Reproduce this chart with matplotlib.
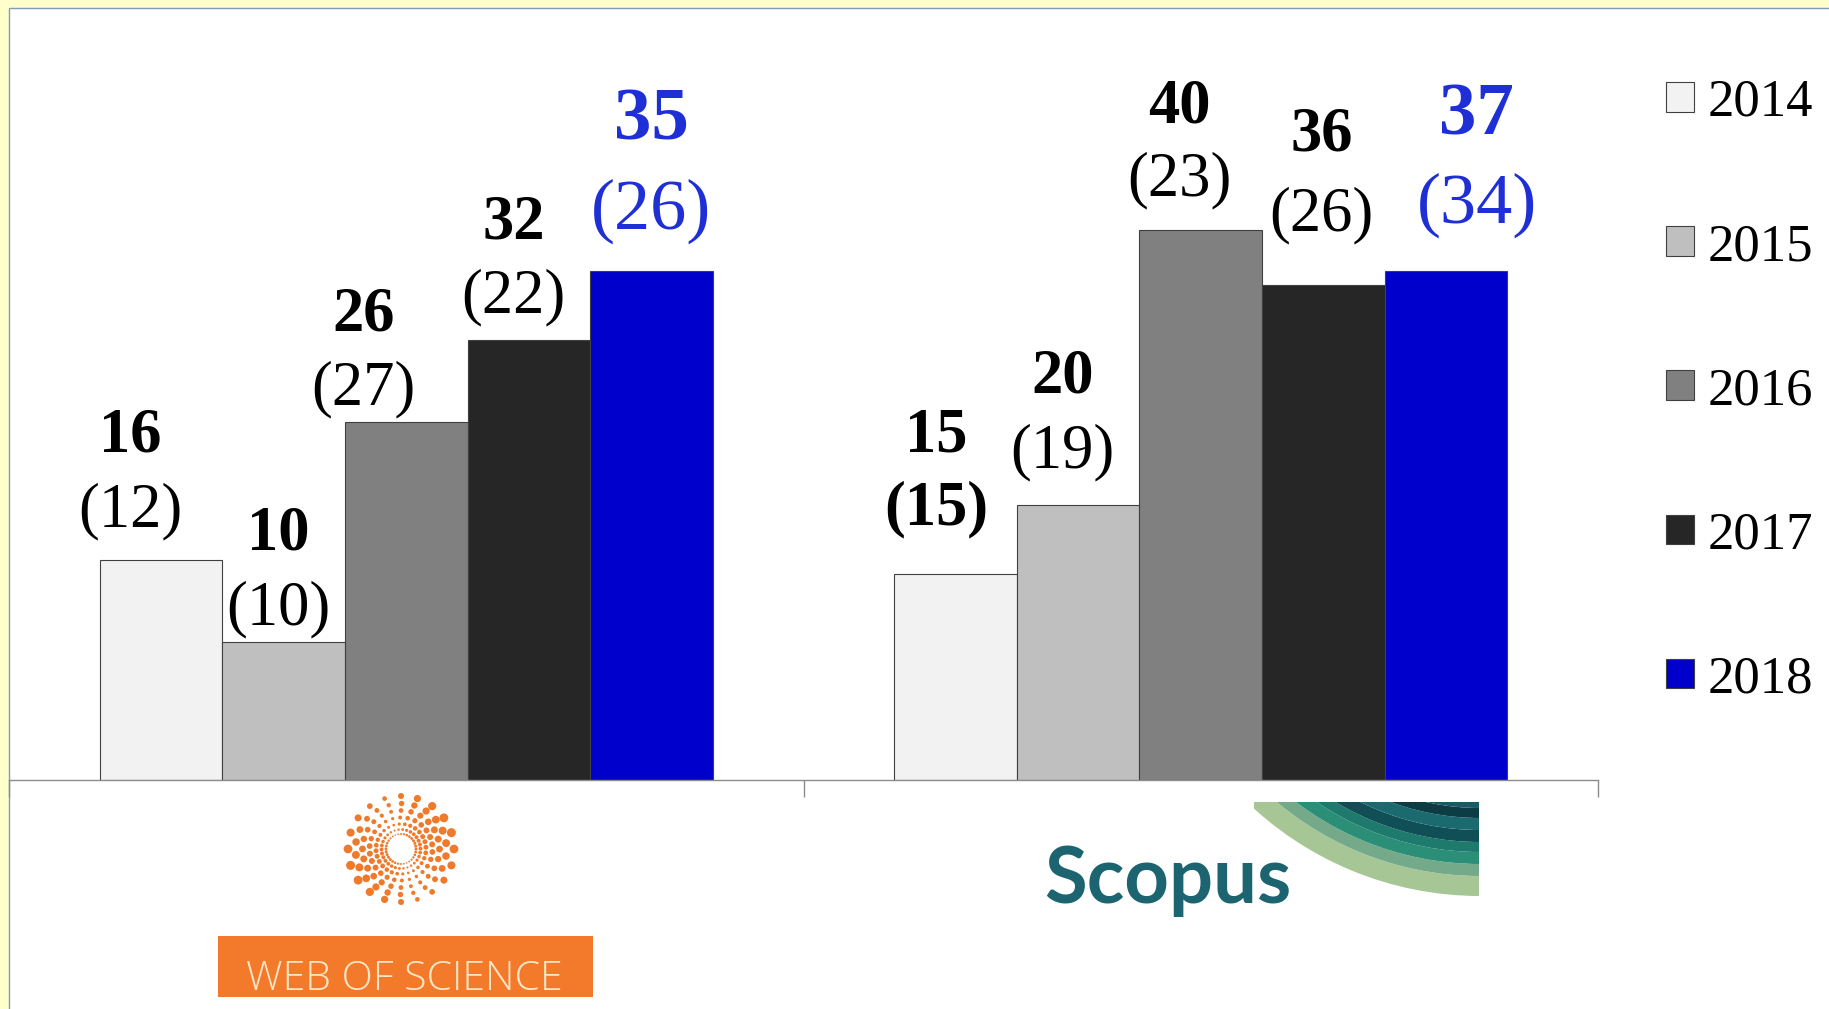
import matplotlib
matplotlib.use('Agg')
import matplotlib.pyplot as plt
import numpy as np
from matplotlib.patches import Rectangle, Wedge

# ---------------- data ----------------
years = ['2014', '2015', '2016', '2017', '2018']
databases = ['Web of Science', 'Scopus']
wos_totals = [16, 10, 26, 32, 35]
wos_paren = [12, 10, 27, 22, 26]
wos_bar_heights = [16, 10, 26, 32, 37]      # 2018 bar is drawn at 37 in the reference
scopus_totals = [15, 20, 40, 36, 37]
scopus_paren = [15, 19, 23, 26, 34]
scopus_bar_heights = [15, 20, 40, 36, 37]

# ---------------- style / layout ----------------
colors = ['#F2F2F2', '#BFBFBF', '#808080', '#262626', '#0000CC']
label_colors = ['black', 'black', 'black', 'black', '#1F2FD6']
label_sizes = [45, 45, 45, 45, 52]
# label offsets (pixels) relative to bar-top centre
lab_dx = [[-31, -5, -43, -15, 0], [-19, -16, -21, -2, 31]]
paren_dy = [[33, 18, 18, 27, 42], [49, 37, 34, 54, 48]]
num_dy = [[108, 93, 92, 101, 131], [122, 112, 107, 134, 136]]
paren_bold = [[False] * 5, [True, False, False, False, False]]

W, H = 1829, 1009
fig = plt.figure(figsize=(W / 100, H / 100), dpi=100)
fig.patch.set_facecolor('#FFFFCC')

bg = fig.add_axes([0, 0, 1, 1], zorder=0)
bg.set_xlim(0, W)
bg.set_ylim(H, 0)
bg.axis('off')
bg.add_patch(Rectangle((8.5, 7.5), W + 50, H + 50, facecolor='white',
                       edgecolor='#7F9DB9', lw=1.0))

px_per_unit = 13.76
ax_left, ax_right, ax_bottom_px, ax_top_px = 9, 1598, 780, 8
ax = fig.add_axes([ax_left / W, (H - ax_bottom_px) / H,
                   (ax_right - ax_left) / W, (ax_bottom_px - ax_top_px) / H], zorder=1)
ax.patch.set_alpha(0)
ax.set_xlim(-0.5, 1.5)
ax.set_ylim(0, (ax_bottom_px - ax_top_px) / px_per_unit)

bw = 0.1543
heights = np.array([wos_bar_heights, scopus_bar_heights])
totals = np.array([wos_totals, scopus_totals])
parens = np.array([wos_paren, scopus_paren])
x = np.arange(len(databases))
bars = []
for j, yr in enumerate(years):
    b = ax.bar(x + (j - 2) * bw, heights[:, j], width=bw, color=colors[j],
               edgecolor='#404040', linewidth=0.8, label=yr)
    bars.append(b)

for i in range(len(databases)):
    for j in range(len(years)):
        xc = x[i] + (j - 2) * bw
        h = heights[i, j]
        ax.annotate(f'{totals[i, j]}', xy=(xc, h), xytext=(lab_dx[i][j], num_dy[i][j]),
                    textcoords='offset pixels', ha='center', va='baseline',
                    fontsize=label_sizes[j] + (2 if j == 4 else 0), fontweight='bold',
                    color=label_colors[j], family='Liberation Serif', annotation_clip=False)
        ax.annotate(f'({parens[i, j]})', xy=(xc, h), xytext=(lab_dx[i][j], paren_dy[i][j]),
                    textcoords='offset pixels', ha='center', va='baseline',
                    fontsize=label_sizes[j],
                    fontweight='bold' if paren_bold[i][j] else 'normal',
                    color=label_colors[j], family='Liberation Serif', annotation_clip=False)

for s in ['left', 'top', 'right']:
    ax.spines[s].set_visible(False)
ax.spines['bottom'].set_color('#8C8C8C')
ax.spines['bottom'].set_linewidth(1.0)
ax.set_xticks([-0.5, 0.5, 1.5])
ax.set_xticklabels([])
ax.tick_params(axis='x', length=12, color='#8C8C8C', width=1.0, direction='out')
ax.set_yticks([])

leg = fig.legend(handles=[b for b in bars], labels=years, loc='upper left',
                 bbox_to_anchor=(1666 / W, 1 - 79 / H), frameon=False,
                 prop={'family': 'Liberation Serif', 'size': 38},
                 handlelength=0.53, handleheight=0.49, handletextpad=0.25,
                 labelspacing=1.82, borderpad=0, borderaxespad=0)

# ---------------- Web of Science logo ----------------
cx, cy = 401, 849
ring_r = [53, 45.5, 38.5, 31.5, 25, 19.5, 15]
ring_n = [20, 22, 24, 26, 28, 30, 32]
ring_d = [9.0, 8.0, 7.0, 6.0, 5.0, 4.0, 3.0]
for k, (r, n, d) in enumerate(zip(ring_r, ring_n, ring_d)):
    th = np.linspace(0, 2 * np.pi, n, endpoint=False) + k * 0.13
    mod = 0.5 + 0.5 * np.abs(np.cos(th - 0.35))
    bg.scatter(cx + r * np.cos(th), cy - r * np.sin(th), s=(d * mod * 0.72) ** 2,
               color='#EF7A2B', lw=0)
bg.add_patch(Rectangle((218, 936), 375, 61, facecolor='#F37A2B', edgecolor='none'))
bg.text(404, 990, 'WEB OF SCIENCE', ha='center', va='baseline', color='#FDE6C6',
        fontsize=29.5, family='Open Sans', fontweight='light')

# ---------------- Scopus logo ----------------
clip = Rectangle((1254, 802), 225, 94, transform=bg.transData)
bands = [(336, 20, '#A6C795'), (316, 12, '#74A98A'), (304, 12, '#2B8E77'),
         (292, 10, '#1D7A6C'), (282, 12, '#0F4F55'), (270, 12, '#1A6A70'),
         (258, 10, '#0C3D44'), (248, 12, '#175C63')]
for r, wdt, c in bands:
    wd = Wedge((1480, 560), r, 0, 360, width=wdt, facecolor=c, edgecolor='none')
    bg.add_patch(wd)
    wd.set_clip_path(clip)
bg.text(1044, 903, 'Scopus', ha='left', va='baseline', color='#1B6470',
        fontsize=56, family='Lato', fontweight='bold')

fig.savefig('out.png', dpi=100, facecolor=fig.get_facecolor())
